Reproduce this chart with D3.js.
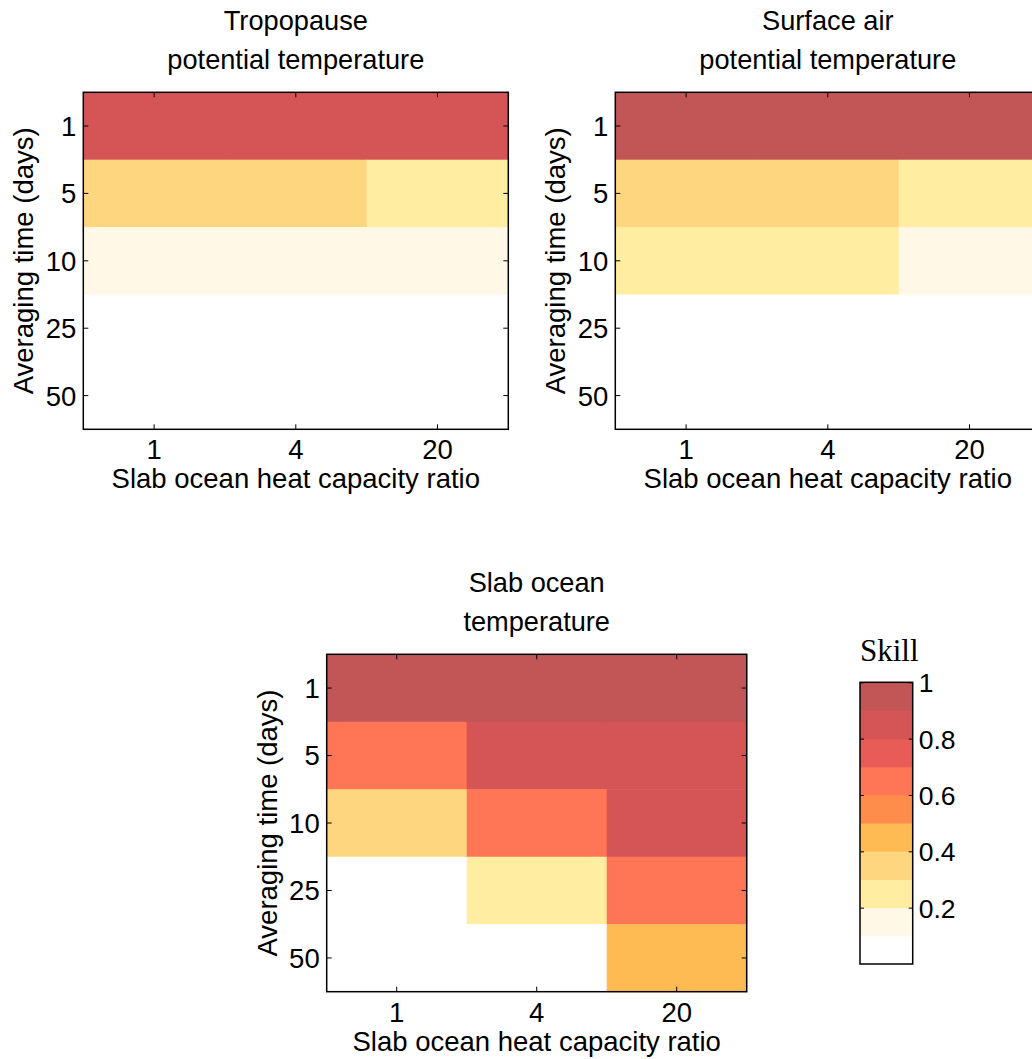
<!DOCTYPE html>
<html>
<head>
<meta charset="utf-8">
<script src="https://cdn.jsdelivr.net/npm/d3@7"></script>
<style>
  html, body { margin: 0; padding: 0; background: #ffffff; }
  svg { display: block; }
</style>
</head>
<body>
<script>
// Category axes
const heatCapacityRatios = ["1", "4", "20"];
const averagingDays = ["1", "5", "10", "25", "50"];

// Skill per averaging time (rows) and heat capacity ratio (columns)
const skillTropopause = [
  [0.85, 0.85, 0.85],
  [0.35, 0.35, 0.25],
  [0.15, 0.15, 0.15],
  [0.0, 0.0, 0.0],
  [0.0, 0.0, 0.0]
];
const skillSurfaceAir = [
  [0.95, 0.95, 0.95],
  [0.35, 0.35, 0.25],
  [0.25, 0.25, 0.15],
  [0.0, 0.0, 0.0],
  [0.0, 0.0, 0.0]
];
const skillSlabOcean = [
  [0.95, 0.95, 0.95],
  [0.65, 0.85, 0.85],
  [0.35, 0.65, 0.85],
  [0.0, 0.25, 0.65],
  [0.0, 0.0, 0.45]
];

const panelTitles = [
  ["Tropopause", "potential temperature"],
  ["Surface air", "potential temperature"],
  ["Slab ocean", "temperature"]
];

// Ten discrete skill levels from 0 to 1
const skillColors = [
  "#ffffff", "#fff8e6", "#ffeda1", "#fed67f", "#febb54",
  "#fe8d4c", "#fe7655", "#e75c56", "#d55455", "#c25555"
];
const colorbarTicks = [0.2, 0.4, 0.6, 0.8, 1];

const W = 1032, H = 1059;
const SANS = "'Liberation Sans', Arial, Helvetica, sans-serif";
const LABEL_FONT = 27.5;
const TITLE_FONT = 27.2;

const svg = d3.select("body").append("svg")
  .attr("width", W).attr("height", H)
  .attr("viewBox", `0 0 ${W} ${H}`)
  .style("font-family", SANS);

const color = d3.scaleQuantize().domain([0, 1]).range(skillColors);

const panels = [
  { data: skillTropopause, title: panelTitles[0], x: 83.3, y: 92.3, w: 425, h: 337 },
  { data: skillSurfaceAir, title: panelTitles[1], x: 615.3, y: 92.3, w: 425, h: 337 },
  { data: skillSlabOcean, title: panelTitles[2], x: 326.7, y: 654.3, w: 420, h: 337.4 }
];

panels.forEach(p => {
  const g = svg.append("g").attr("transform", `translate(${p.x},${p.y})`);
  const x = d3.scaleBand().domain(heatCapacityRatios).range([0, p.w]);
  const y = d3.scaleBand().domain(averagingDays).range([0, p.h]);

  const cells = [];
  p.data.forEach((row, i) => row.forEach((v, j) => {
    cells.push({ day: averagingDays[i], ratio: heatCapacityRatios[j], v });
  }));

  g.selectAll("rect.cell").data(cells).join("rect")
    .attr("class", "cell")
    .attr("x", d => x(d.ratio))
    .attr("y", d => y(d.day))
    .attr("width", x.bandwidth() + 0.5)
    .attr("height", y.bandwidth() + 0.5)
    .attr("fill", d => color(d.v));

  // Inward ticks on all four sides
  const tickLen = 5;
  const axisStyle = sel => {
    sel.select(".domain").remove();
    sel.selectAll(".tick line").attr("stroke", "#000").attr("stroke-width", 1);
  };

  const xb = g.append("g").attr("transform", `translate(0,${p.h})`)
    .call(d3.axisBottom(x).tickSizeInner(-tickLen).tickSizeOuter(0));
  axisStyle(xb);
  xb.selectAll(".tick text")
    .attr("y", 30).attr("dy", null)
    .attr("font-size", LABEL_FONT).attr("font-family", SANS).attr("fill", "#000");

  const xt = g.append("g")
    .call(d3.axisTop(x).tickSizeInner(-tickLen).tickSizeOuter(0).tickFormat(""));
  axisStyle(xt);

  const yl = g.append("g")
    .call(d3.axisLeft(y).tickSizeInner(-tickLen).tickSizeOuter(0));
  axisStyle(yl);
  yl.selectAll(".tick text")
    .attr("x", -7).attr("dy", "0.36em")
    .attr("font-size", LABEL_FONT).attr("font-family", SANS).attr("fill", "#000");

  const yr = g.append("g").attr("transform", `translate(${p.w},0)`)
    .call(d3.axisRight(y).tickSizeInner(-tickLen).tickSizeOuter(0).tickFormat(""));
  axisStyle(yr);

  // Frame
  g.append("rect")
    .attr("width", p.w).attr("height", p.h)
    .attr("fill", "none").attr("stroke", "#000").attr("stroke-width", 1.5);

  // Titles
  g.append("text")
    .attr("x", p.w / 2).attr("y", -62)
    .attr("text-anchor", "middle").attr("font-size", TITLE_FONT)
    .text(p.title[0]);
  g.append("text")
    .attr("x", p.w / 2).attr("y", -23)
    .attr("text-anchor", "middle").attr("font-size", TITLE_FONT)
    .text(p.title[1]);

  // Axis labels
  g.append("text")
    .attr("x", p.w / 2).attr("y", p.h + 59)
    .attr("text-anchor", "middle").attr("font-size", LABEL_FONT)
    .text("Slab ocean heat capacity ratio");
  g.append("text")
    .attr("transform", `translate(-50,${p.h / 2}) rotate(-90)`)
    .attr("text-anchor", "middle").attr("font-size", LABEL_FONT)
    .text("Averaging time (days)");
});

// Colorbar
const cb = { x: 860, y: 682.3, w: 52.7, h: 281.7 };
const cbScale = d3.scaleLinear().domain([0, 1]).range([cb.y + cb.h, cb.y]);
const levels = d3.range(skillColors.length).map(i => ({
  lo: i / skillColors.length, hi: (i + 1) / skillColors.length, c: skillColors[i]
}));
const cg = svg.append("g");
cg.selectAll("rect.level").data(levels).join("rect")
  .attr("class", "level")
  .attr("x", cb.x)
  .attr("y", d => cbScale(d.hi))
  .attr("width", cb.w)
  .attr("height", d => cbScale(d.lo) - cbScale(d.hi) + 0.5)
  .attr("fill", d => d.c);

const cbAxisR = cg.append("g").attr("transform", `translate(${cb.x + cb.w},0)`)
  .call(d3.axisRight(cbScale).tickValues(colorbarTicks)
    .tickFormat(d => d === 1 ? "1" : d3.format(".1f")(d))
    .tickSizeInner(-4).tickSizeOuter(0));
cbAxisR.select(".domain").remove();
cbAxisR.selectAll(".tick line").attr("stroke", "#000");
cbAxisR.selectAll(".tick text")
  .attr("x", 6).attr("dy", "0.36em")
  .attr("font-size", 26.5).attr("font-family", SANS).attr("fill", "#000");

const cbAxisL = cg.append("g").attr("transform", `translate(${cb.x},0)`)
  .call(d3.axisLeft(cbScale).tickValues(colorbarTicks).tickFormat("")
    .tickSizeInner(-4).tickSizeOuter(0));
cbAxisL.select(".domain").remove();
cbAxisL.selectAll(".tick line").attr("stroke", "#000");

cg.append("rect")
  .attr("x", cb.x).attr("y", cb.y).attr("width", cb.w).attr("height", cb.h)
  .attr("fill", "none").attr("stroke", "#000").attr("stroke-width", 1.5);

cg.append("text")
  .attr("x", cb.x).attr("y", 661)
  .style("font-family", "'Liberation Serif', 'Times New Roman', serif")
  .attr("font-size", 31)
  .text("Skill");
</script>
</body>
</html>
